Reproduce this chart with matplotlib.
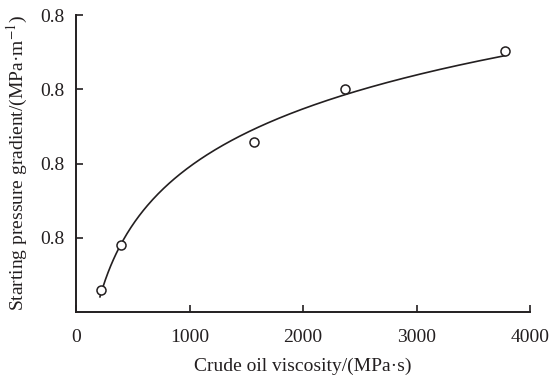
import numpy as np
import matplotlib.pyplot as plt
from matplotlib.ticker import FixedLocator, FixedFormatter

plt.rcParams['font.family'] = ['Liberation Serif', 'DejaVu Serif']
plt.rcParams['mathtext.fontset'] = 'stix'

# measured points
viscosity = [220, 396, 1568, 2370, 3780]
gradient = [0.060, 0.181, 0.457, 0.600, 0.703]

y_ticks = [0.2, 0.4, 0.6, 0.8]
y_tick_labels = ['0.8', '0.8', '0.8', '0.8']
x_ticks = [0, 1000, 2000, 3000, 4000]

ink = '#231f20'

fig = plt.figure(figsize=(5.53, 3.80), dpi=100)
ax = fig.add_axes([76 / 553, 68 / 380, 454 / 553, 297 / 380])

# logarithmic trend line fitted to the points
a, b = np.polyfit(np.log(viscosity), gradient, 1)
xs = np.linspace(211, 3780, 300)
ax.plot(xs, a * np.log(xs) + b, color=ink, lw=1.2, zorder=2)

ax.plot(viscosity, gradient, 'o', mfc='white', mec=ink, mew=1.1, ms=6.5, zorder=3)

ax.set_xlim(0, 4000)
ax.set_ylim(0, 0.8)
ax.xaxis.set_major_locator(FixedLocator(x_ticks))
ax.yaxis.set_major_locator(FixedLocator(y_ticks))
ax.yaxis.set_major_formatter(FixedFormatter(y_tick_labels))

for side in ['top', 'right']:
    ax.spines[side].set_visible(False)
for side in ['left', 'bottom']:
    ax.spines[side].set_color(ink)
    ax.spines[side].set_linewidth(1.4)

ax.tick_params(direction='in', length=5, width=1.2, color=ink,
               labelsize=14, labelcolor=ink, pad=8)
ax.tick_params(axis='x', pad=12)

ax.set_xlabel('Crude oil viscosity/(MPa·s)', fontsize=14, color=ink, labelpad=9)
ax.set_ylabel(r'Starting pressure gradient/(MPa·m$^{-1}$)', fontsize=14,
              color=ink, labelpad=8)

fig.savefig('out.png', dpi=100)
